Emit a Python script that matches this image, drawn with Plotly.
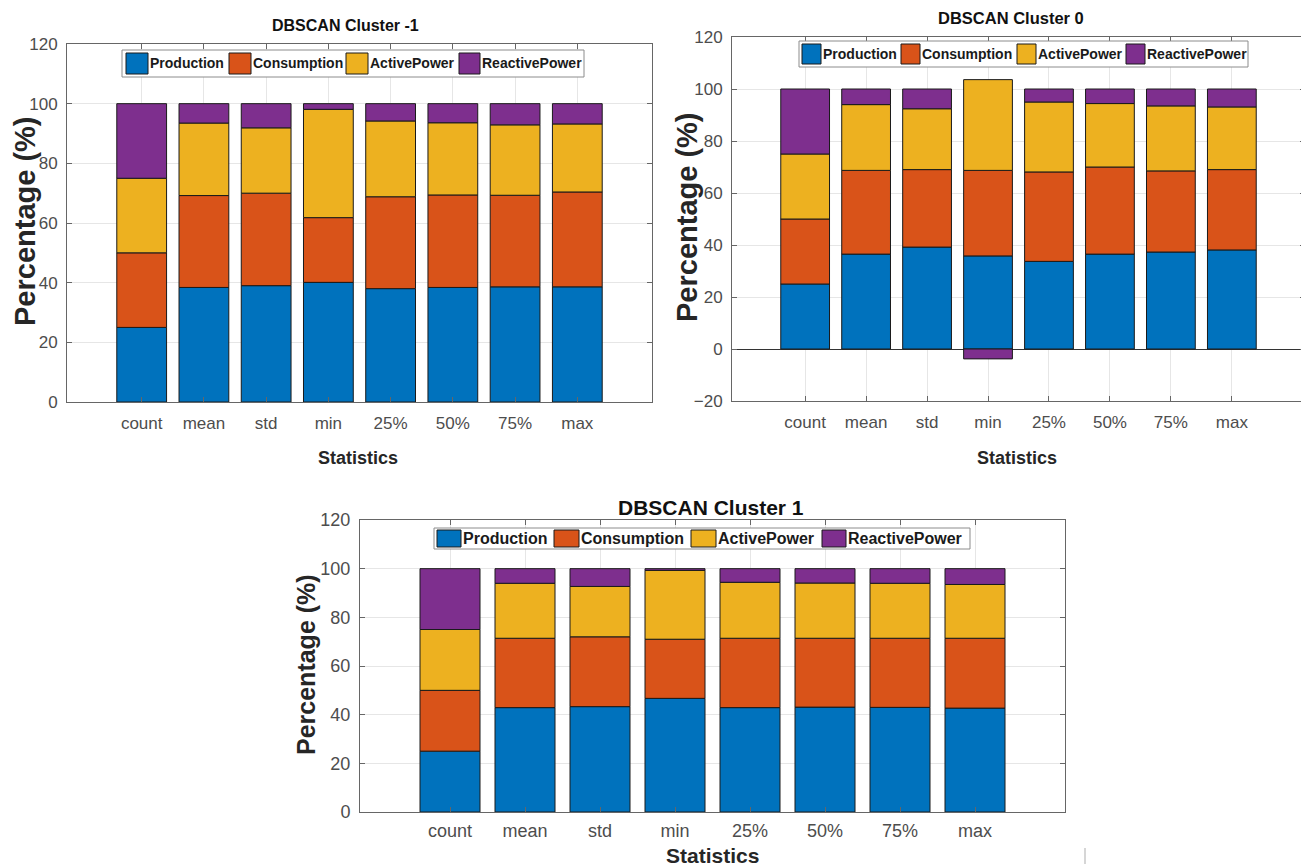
import plotly.graph_objects as go

W, H = 1309, 868
OFF = 8  # the page body adds an 8 px margin around the figure

categories = ["count", "mean", "std", "min", "25%", "50%", "75%", "max"]
series_names = ["Production", "Consumption", "ActivePower", "ReactivePower"]
colors = ["#0072BD", "#D95319", "#EDB120", "#7E2F8E"]

# DBSCAN Cluster -1 (percent of each statistic)
c_m1_production = [25.0, 38.4, 39.0, 40.1, 38.0, 38.4, 38.6, 38.6]
c_m1_consumption = [25.0, 30.8, 31.0, 21.7, 30.8, 31.0, 30.7, 31.8]
c_m1_active = [25.0, 24.3, 21.9, 36.3, 25.4, 24.2, 23.6, 22.8]
c_m1_reactive = [25.0, 6.5, 8.1, 1.9, 5.8, 6.4, 7.1, 6.8]

# DBSCAN Cluster 0
c_0_production = [25.0, 36.5, 39.2, 35.8, 33.7, 36.5, 37.3, 38.1]
c_0_consumption = [25.0, 32.2, 29.8, 32.9, 34.4, 33.5, 31.2, 30.9]
c_0_active = [25.0, 25.3, 23.4, 34.9, 26.9, 24.4, 25.0, 24.1]
c_0_reactive = [25.0, 6.0, 7.6, -3.8, 5.0, 5.6, 6.5, 6.9]

# DBSCAN Cluster 1
c_1_production = [25.0, 42.9, 43.3, 46.7, 42.9, 43.1, 43.0, 42.7]
c_1_consumption = [25.0, 28.5, 28.7, 24.3, 28.5, 28.3, 28.4, 28.7]
c_1_active = [25.0, 22.6, 20.7, 28.3, 23.0, 22.7, 22.6, 22.1]
c_1_reactive = [25.0, 6.0, 7.3, 0.7, 5.6, 5.9, 6.0, 6.5]

panel_titles = ["DBSCAN Cluster -1", "DBSCAN Cluster 0", "DBSCAN Cluster 1"]
y_ticks_p1 = [0, 20, 40, 60, 80, 100, 120]
y_ticks_p2 = [-20, 0, 20, 40, 60, 80, 100, 120]
y_ticks_p3 = [0, 20, 40, 60, 80, 100, 120]

FONT = "Liberation Sans, Arial, sans-serif"


def px(x):
    return (x - OFF) / W


def py(y):
    return 1 - (y - OFF) / H


panels = [
    dict(data=[c_m1_production, c_m1_consumption, c_m1_active, c_m1_reactive],
         box=(67, 652, 44, 402), yr=[0, 120], yt=y_ticks_p1, tfs=17, xso=6,
         title=(345, 25, 16), ytitle=(25, 221, 29), xtitle=(358, 458, 18),
         legend=dict(box=(122, 584, 50, 77), sw=(53, 74), fs=14,
                     items=[(126, 148, 150), (229, 251, 253), (346, 368, 370), (459, 480, 482)])),
    dict(data=[c_0_production, c_0_consumption, c_0_active, c_0_reactive],
         box=(732, 1305, 37, 401), yr=[-20, 120], yt=y_ticks_p2, tfs=17, xso=6,
         title=(1011, 18, 16.5), ytitle=(687, 217, 29), xtitle=(1017, 458, 18),
         legend=dict(box=(799, 1248, 41, 67), sw=(44, 64), fs=14,
                     items=[(802, 821, 823), (901, 920, 922), (1017, 1036, 1038), (1126, 1145, 1147)])),
    dict(data=[c_1_production, c_1_consumption, c_1_active, c_1_reactive],
         box=(360, 1065, 520, 812), yr=[0, 120], yt=y_ticks_p3, tfs=18, xso=2,
         title=(711, 507, 21), ytitle=(306, 665, 25), xtitle=(712, 855, 21),
         legend=dict(box=(434, 970, 528, 549), sw=(530, 547), fs=16,
                     items=[(437, 461, 463), (554, 579, 581), (691, 716, 718), (822, 846, 848)])),
]

fig = go.Figure()
shapes = []
annotations = []
layout = dict(width=W, height=H,
              margin=dict(l=0, r=0, t=0, b=0, pad=0, autoexpand=False),
              paper_bgcolor="white", plot_bgcolor="white",
              barmode="relative", bargap=0.2, showlegend=False)

for i, p in enumerate(panels):
    n = "" if i == 0 else str(i + 1)
    for s, (name, col) in enumerate(zip(series_names, colors)):
        fig.add_trace(go.Bar(
            x=categories, y=p["data"][s], name=name,
            marker=dict(color=col, line=dict(color="#1a1a1a", width=1)),
            xaxis="x" + n, yaxis="y" + n, showlegend=False))
    x0, x1, y0, y1 = p["box"]
    tickfont = dict(family=FONT, size=p["tfs"], color="#4d4d4d")
    common = dict(showline=True, linecolor="#666666", linewidth=1, mirror="allticks",
                  ticks="inside", ticklen=5, tickcolor="#666666", showgrid=True,
                  gridcolor="#e6e6e6", tickfont=tickfont, automargin=False,
                  fixedrange=True)
    layout["xaxis" + n] = dict(
        domain=[px(x0), px(x1)], anchor="y" + n, type="category",
        categoryorder="array", categoryarray=categories, range=[-1.2, 8.2],
        zeroline=False, ticklabelstandoff=p["xso"], **common)
    layout["yaxis" + n] = dict(
        domain=[py(y1), py(y0)], anchor="x" + n, range=p["yr"],
        tickmode="array", tickvals=p["yt"],
        zeroline=(i == 1), zerolinecolor="#333333", zerolinewidth=1,
        ticklabelstandoff=5, **common)
    tx, ty, tfs = p["title"]
    annotations.append(dict(text="<b>%s</b>" % panel_titles[i], x=px(tx), y=py(ty),
                            xref="paper", yref="paper", showarrow=False,
                            xanchor="center", yanchor="middle",
                            font=dict(family=FONT, size=tfs, color="#111111")))
    yx, yy, yfs = p["ytitle"]
    annotations.append(dict(text="<b>Percentage (%)</b>", x=px(yx), y=py(yy),
                            xref="paper", yref="paper", showarrow=False, textangle=-90,
                            xanchor="center", yanchor="middle", borderpad=0,
                            font=dict(family=FONT, size=yfs, color="#262626")))
    sx, sy, sfs = p["xtitle"]
    annotations.append(dict(text="<b>Statistics</b>", x=px(sx), y=py(sy),
                            xref="paper", yref="paper", showarrow=False,
                            xanchor="center", yanchor="middle",
                            font=dict(family=FONT, size=sfs, color="#262626")))
    lg = p["legend"]
    bx0, bx1, by0, by1 = lg["box"]
    shapes.append(dict(type="rect", xref="paper", yref="paper",
                       x0=px(bx0), x1=px(bx1), y0=py(by1), y1=py(by0),
                       fillcolor="white", line=dict(color="#8c8c8c", width=1), layer="above"))
    sy0, sy1 = lg["sw"]
    for (a, b, t), name, col in zip(lg["items"], series_names, colors):
        shapes.append(dict(type="rect", xref="paper", yref="paper",
                           x0=px(a), x1=px(b), y0=py(sy1), y1=py(sy0),
                           fillcolor=col, line=dict(color="#1a1a1a", width=1), layer="above"))
        annotations.append(dict(text="<b>%s</b>" % name, x=px(t - 2), y=py((sy0 + sy1) / 2),
                                xref="paper", yref="paper", showarrow=False,
                                xanchor="left", yanchor="middle",
                                font=dict(family=FONT, size=lg["fs"], color="#1a1a1a")))

# small stray mark near the bottom right of the source image
shapes.append(dict(type="line", xref="paper", yref="paper",
                   x0=px(1085), x1=px(1085), y0=py(864), y1=py(848),
                   line=dict(color="#c8c8c8", width=1.5)))

layout["shapes"] = shapes
layout["annotations"] = annotations
fig.update_layout(**layout)
fig.write_html("out.html")
